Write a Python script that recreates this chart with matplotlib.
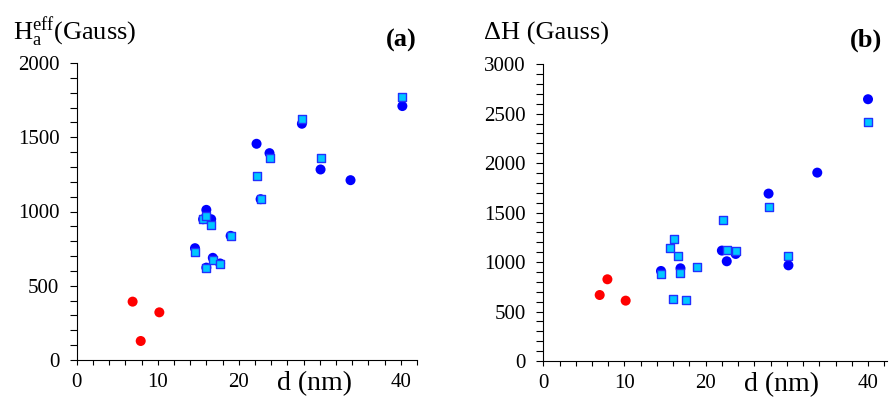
import numpy as np
import matplotlib
matplotlib.use("Agg")
import matplotlib.pyplot as plt
from matplotlib.ticker import MultipleLocator

plt.rcParams['font.family'] = ['Liberation Serif', 'DejaVu Serif']
plt.rcParams['mathtext.fontset'] = 'custom'
plt.rcParams['mathtext.rm'] = 'Liberation Serif'

# %% panel (a): effective anisotropy field
a_red_d = [6.9, 7.9, 10.2]
a_red_h = [393, 128, 321]

a_circ_d = [14.6, 15.6, 16.0, 16.6, 16.0, 16.8, 17.7, 19.0, 22.2, 22.7, 23.8, 27.8, 30.1, 33.8, 40.2]
a_circ_h = [753, 948, 1011, 948, 622, 688, 650, 836, 1456, 1083, 1393, 1591, 1283, 1211, 1710]

a_sq_d = [14.6, 15.6, 16.0, 16.6, 16.0, 16.8, 17.7, 19.0, 22.2, 22.7, 23.8, 27.8, 30.1, 40.2]
a_sq_h = [724, 948, 971, 906, 618, 674, 647, 836, 1236, 1083, 1362, 1620, 1360, 1771]

# %% panel (b): linewidth
b_red_d = [6.95, 7.9, 10.15]
b_red_h = [667, 826, 610]

b_circ_d = [14.5, 16.9, 22.0, 22.6, 23.7, 27.75, 30.2, 33.75, 40.0]
b_circ_h = [910, 937, 1116, 1008, 1082, 1692, 967, 1904, 2646]

b_sq_d = [14.5, 15.6, 16.1, 16.6, 16.9, 16.0, 17.6, 18.9, 22.1, 22.6, 23.7, 27.75, 30.2, 40.0]
b_sq_h = [880, 1143, 1230, 1058, 890, 630, 620, 951, 1426, 1126, 1116, 1554, 1058, 2420]

x_ticks = [0, 10, 20, 30, 40]
x_labels = ['0', '10', '20', '', '40']

fig = plt.figure(figsize=(8.89, 4), dpi=100)
ax1 = fig.add_axes([0.0863, 0.1, 0.3827, 0.7425])
ax2 = fig.add_axes([0.6111, 0.0975, 0.3863, 0.742])


def style(ax, ymax, xmax):
    ax.set_xlim(0, xmax)
    ax.set_ylim(0, ymax)
    for s in ['top', 'right']:
        ax.spines[s].set_visible(False)
    ax.set_xticks(x_ticks)
    ax.set_xticklabels(x_labels)
    ax.xaxis.set_minor_locator(MultipleLocator(2))
    ax.yaxis.set_major_locator(MultipleLocator(500))
    ax.yaxis.set_minor_locator(MultipleLocator(100))
    ax.tick_params(which='both', direction='out', width=0.8, labelsize=15)
    ax.tick_params(axis='x', which='both', length=3.6, pad=6)
    ax.tick_params(axis='y', which='both', length=5, pad=7.5)


def draw(ax, rd, rh, cd, ch, sd, sh):
    ax.scatter(cd, ch, s=52, c='#0000ff', edgecolors='none', zorder=2, clip_on=False)
    ax.scatter(sd, sh, s=30, marker='s', c='#00c8ff', edgecolors='#2030ff',
               linewidths=1.0, zorder=3, clip_on=False)
    ax.scatter(rd, rh, s=52, c='#ff0000', edgecolors='none', zorder=2)


draw(ax1, a_red_d, a_red_h, a_circ_d, a_circ_h, a_sq_d, a_sq_h)
draw(ax2, b_red_d, b_red_h, b_circ_d, b_circ_h, b_sq_d, b_sq_h)
style(ax1, 2000, 42.0)
style(ax2, 3000, 42.3)

for ax in [ax1, ax2]:
    ax.text(29.3, -0.08, 'd (nm)', transform=ax.get_xaxis_transform(),
            ha='center', va='center', fontsize=20)

fig.text(13 / 889, 1 - 40 / 400, r'$\mathrm{H_a^{eff}}$(Gauss)', fontsize=19,
         ha='left', va='baseline')
fig.text(417 / 889, 1 - 40 / 400, '(a)', fontsize=19, fontweight='bold',
         ha='right', va='center')
fig.text(484 / 889, 1 - 40 / 400, u'\u0394H (Gauss)', fontsize=19,
         ha='left', va='baseline')
fig.text(882 / 889, 1 - 40 / 400, '(b)', fontsize=19, fontweight='bold',
         ha='right', va='center')

fig.savefig('out.png', dpi=100)
